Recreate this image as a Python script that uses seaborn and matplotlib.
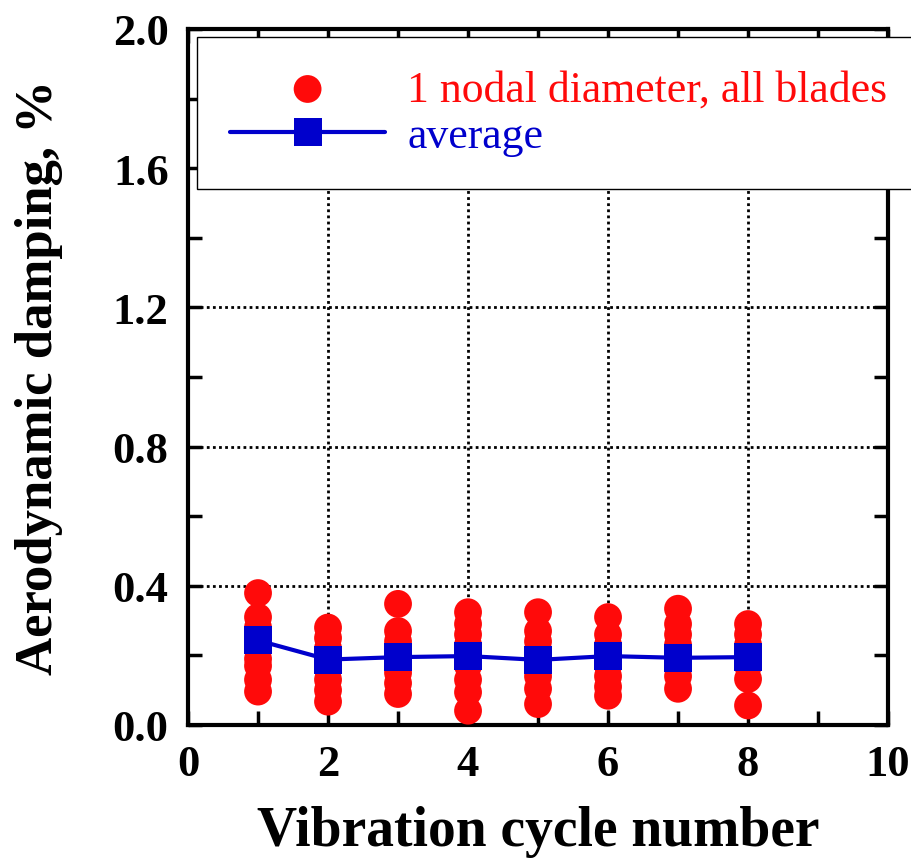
import numpy as np
import pandas as pd
import matplotlib
matplotlib.use("Agg")
import matplotlib.pyplot as plt
import seaborn as sns
from matplotlib.ticker import MultipleLocator

# ---- data ----
cycles = [1, 2, 3, 4, 5, 6, 7, 8]
blade_c1 = [0.379, 0.31, 0.28, 0.25, 0.22, 0.19, 0.17, 0.13, 0.096]
blade_c2 = [0.28, 0.25, 0.22, 0.19, 0.16, 0.13, 0.10, 0.067]
blade_c3 = [0.348, 0.27, 0.24, 0.21, 0.18, 0.15, 0.12, 0.089]
blade_c4 = [0.324, 0.29, 0.26, 0.23, 0.20, 0.17, 0.13, 0.094, 0.041]
blade_c5 = [0.324, 0.27, 0.24, 0.21, 0.17, 0.14, 0.104, 0.060]
blade_c6 = [0.31, 0.26, 0.23, 0.20, 0.17, 0.14, 0.11, 0.084]
blade_c7 = [0.334, 0.29, 0.26, 0.23, 0.20, 0.17, 0.14, 0.104]
blade_c8 = [0.29, 0.26, 0.23, 0.20, 0.17, 0.132, 0.056]
average = [0.243, 0.188, 0.195, 0.198, 0.187, 0.198, 0.193, 0.195]

x_ticks = [0, 2, 4, 6, 8, 10]
y_ticks = [0.0, 0.4, 0.8, 1.2, 1.6, 2.0]
y_ticklabels = ["0.0", "0.4", "0.8", "1.2", "1.6", "2.0"]

label_points = "1 nodal diameter, all blades"
label_avg = "average"
x_label = "Vibration cycle number"
y_label = "Aerodynamic damping, %"

blades = [blade_c1, blade_c2, blade_c3, blade_c4, blade_c5, blade_c6, blade_c7, blade_c8]
rows = []
for c, vals in zip(cycles, blades):
    for v in vals:
        rows.append({"cycle": c, "damping": v})
df_pts = pd.DataFrame(rows)
df_avg = pd.DataFrame({"cycle": cycles, "damping": average})

# ---- figure ----
sns.set_theme(style="white")
plt.rcParams["font.family"] = ["Liberation Serif", "DejaVu Serif"]
plt.rcParams["text.color"] = "black"
plt.rcParams["axes.labelcolor"] = "black"
plt.rcParams["xtick.color"] = "black"
plt.rcParams["ytick.color"] = "black"

fig = plt.figure(figsize=(9.11, 8.62), dpi=100)
ax = fig.add_axes([0.2064, 0.1578, 0.7684, 0.8074])

ax.grid(True, which="major", color="black", linestyle=(0, (1, 1.2)), linewidth=2.0, zorder=0)
ax.set_axisbelow(True)

sns.scatterplot(data=df_pts, x="cycle", y="damping", ax=ax, color="#ff0a0a",
                s=27**2 * 0.55, marker="o", edgecolor="none", linewidth=0,
                label=label_points, zorder=3)
sns.lineplot(data=df_avg, x="cycle", y="damping", ax=ax, color="#0000cc",
             linewidth=3, marker="s", markersize=20, markeredgewidth=0,
             label=label_avg, zorder=4)

ax.set_xlim(0, 10)
ax.set_ylim(0, 2.0)
ax.set_xticks(x_ticks)
ax.set_yticks(y_ticks)
ax.set_yticklabels(y_ticklabels)
ax.xaxis.set_minor_locator(MultipleLocator(1))
ax.yaxis.set_minor_locator(MultipleLocator(0.2))
ax.tick_params(which="both", direction="in", top=True, right=True, bottom=True, left=True,
               length=10, width=2.5, color="black")
ax.tick_params(which="major", labelsize=32, labelcolor="black")
ax.tick_params(axis="x", which="major", pad=14)
ax.tick_params(axis="y", which="major", pad=14)
for lab in ax.get_xticklabels() + ax.get_yticklabels():
    lab.set_fontweight("bold")
for sp in ax.spines.values():
    sp.set_linewidth(3)
    sp.set_color("black")

ax.set_xlabel(x_label, fontsize=40, fontweight="bold", labelpad=15, color="black")
ax.set_ylabel(y_label, fontsize=38, fontweight="bold", labelpad=36, color="black")

leg = ax.legend(loc="upper left", bbox_to_anchor=(0.013, 0.989), fontsize=31.5,
                frameon=True, fancybox=False, edgecolor="black", framealpha=1,
                handlelength=3.55, handletextpad=0.5, borderpad=0.75, labelspacing=0.15,
                borderaxespad=0)
leg.get_frame().set_linewidth(1.0)
for t, c in zip(leg.get_texts(), ["#ff0a0a", "#0000cc"]):
    t.set_color(c)

fig.savefig("out.png", dpi=100)
